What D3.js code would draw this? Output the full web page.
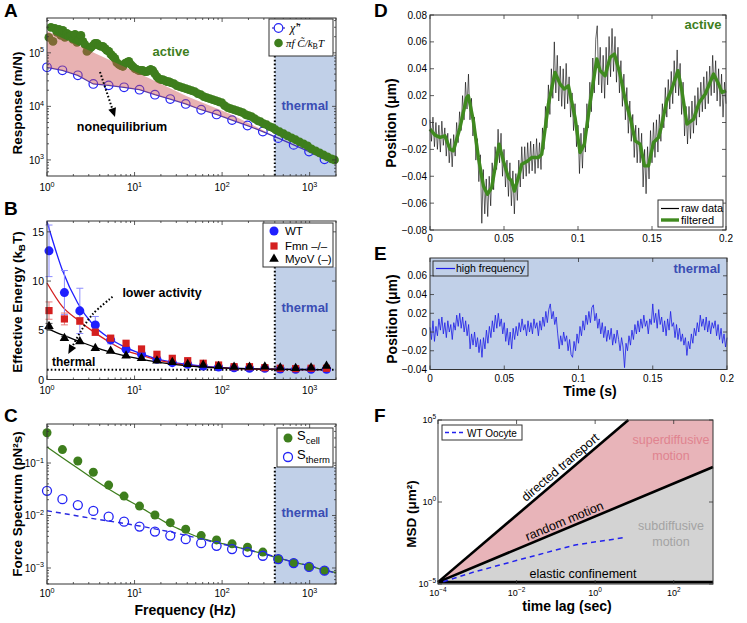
<!DOCTYPE html>
<html><head><meta charset="utf-8">
<script src="https://d3js.org/d3.v7.min.js"></script>
<style>
html,body{margin:0;padding:0;background:#fff;}
svg{display:block;font-family:"Liberation Sans",Arial,Helvetica,sans-serif;}
</style></head><body>
<svg id="fig" width="747" height="623"></svg>
<script>
// ================= DATA =================
const freqs = [1, 1.5, 2.25, 3.38, 5.06, 7.59, 11.4, 17.1, 25.6, 38.4, 57.7, 86.5, 130, 195, 292, 438, 657, 985, 1478];
const thermalCutoff = 400;

// Panel A
const chiImag = [53700, 47200, 38000, 26200, 24700, 22700, 20500, 16500, 13700, 11100, 8650, 7060, 5540, 4390, 3390, 2550, 1910, 1430, 1030];
const activeFreq = [1.05,1.11,1.17,1.23,1.30,1.37,1.44,1.52,1.60,1.69,1.78,1.88,1.98,2.09,2.20,2.32,2.44,2.57,2.71,2.86,3.01,3.18,3.35,3.53,3.72,3.92,4.13,4.35,4.59,4.83,5.09,5.37,5.66,5.96,6.28,6.62,6.98,7.36,7.75,8.17,8.61,9.07,9.56,10.1,10.6,11.2,11.8,12.4,13.1,13.8,14.6,15.3,16.2,17.0,18.0,18.9,19.9,21.0,22.2,23.4,24.6,25.9,28.1,30.3,32.8,35.5,38.5,41.6,45.0,48.7,52.7,57.0,61.7,66.7,72.2,78.1,84.5,91.4,98.9,107,116,125,136,147,159,172,186,201,217,235,255,275,298,323,349,378,408,454,504,560,622,691,767,853,947,1050,1170,1300,1440,1600,1780,1920];
const activeResp = [1.94e5,2.99e5,1.63e5,2.86e5,2.41e5,2.74e5,2.11e5,2.62e5,1.94e5,2.30e5,2.02e5,2.11e5,1.78e5,2.21e5,1.56e5,1.78e5,2.11e5,1.63e5,1.43e5,1.06e5,1.16e5,1.26e5,1.37e5,1.50e5,1.50e5,1.37e5,1.32e5,1.32e5,1.21e5,1.11e5,1.06e5,9.31e4,8.55e4,7.84e4,6.59e4,6.05e4,5.79e4,5.55e4,6.31e4,6.59e4,6.89e4,6.05e4,5.55e4,5.09e4,4.88e4,4.67e4,4.67e4,4.67e4,4.47e4,4.47e4,4.67e4,4.88e4,4.67e4,4.10e4,3.60e4,3.30e4,3.16e4,3.16e4,3.03e4,2.90e4,2.90e4,2.78e4,2.66e4,2.44e4,2.34e4,2.24e4,2.15e4,2.06e4,1.97e4,1.89e4,1.73e4,1.66e4,1.52e4,1.46e4,1.39e4,1.34e4,1.28e4,1.22e4,1.17e4,1.03e4,9.46e3,9.06e3,8.67e3,8.30e3,7.95e3,7.62e3,6.98e3,6.69e3,6.41e3,5.88e3,5.39e3,5.16e3,4.74e3,4.54e3,4.17e3,3.99e3,3.66e3,3.36e3,3.08e3,2.82e3,2.59e3,2.38e3,2.18e3,2.00e3,1.83e3,1.61e3,1.48e3,1.36e3,1.24e3,1.14e3,1.05e3,1.00e3];
const noneqEdgeFreq = [1, 4.02, 14.9, 39.5, 122, 349];
const noneqEdgeResp = [2.55e5, 8.9e4, 3.3e4, 1.54e4, 7.3e3, 3.1e3];

// Panel B
const wtEnergy  = [13.07, 8.83, 6.97, 5.54, 4.02, 3.07, 2.56, 2.05, 1.71, 1.55, 1.37, 1.27, 1.2, 1.14, 1.14, 1.07, 1.04, 1.04, 1.04];
const wtErr     = [2.62, 2.24, 2.3, 0.86, 0.4, 0.22, 0.12, 0.1, 0.08, 0.06, 0.05, 0.05, 0.04, 0.04, 0.04, 0.04, 0.04, 0.04, 0.04];
const fmnEnergy = [7.0, 6.15, 5.95, 4.8, 4.2, 3.68, 3.1, 2.56, 2.15, 1.91, 1.65, 1.47, 1.3, 1.3, 1.2, 1.14, 1.1, 1.14, 1.14];
const fmnErr    = [0.88, 0.6, 0.35, 0.3, 0.2, 0.15, 0.12, 0.1, 0.08, 0.06, 0.05, 0.05, 0.05, 0.05, 0.05, 0.05, 0.05, 0.05, 0.05];
const myoEnergy = [5.4, 4.19, 3.85, 3.17, 2.9, 2.42, 2.15, 1.91, 1.75, 1.55, 1.47, 1.34, 1.27, 1.27, 1.3, 1.2, 1.14, 1.2, 1.37];
const myoErr    = [0.3, 0.2, 0.15, 0.1, 0.08, 0.06, 0.05, 0.05, 0.05, 0.05, 0.05, 0.05, 0.05, 0.05, 0.05, 0.05, 0.05, 0.05, 0.05];
const wtFit  = [16.05, 11.1, 7.75, 5.54, 4.25, 3.34, 2.67, 2.15, 1.8, 1.55, 1.38, 1.25, 1.16, 1.1, 1.06, 1.04, 1.02, 1.01, 1.0];
const fmnFit = [9.8, 7.4, 6.05, 4.86, 3.85, 3.0, 2.5, 2.05, 1.71, 1.47, 1.3, 1.2, 1.12, 1.07, 1.04, 1.02, 1.01, 1.0, 1.0];
const myoFit = [5.2, 4.53, 3.92, 3.34, 2.83, 2.42, 2.09, 1.81, 1.58, 1.4, 1.27, 1.2, 1.14, 1.09, 1.06, 1.04, 1.02, 1.01, 1.0];
const thermalLevel = 1;

// Panel C
const sCell  = [0.377, 0.18, 0.109, 0.0667, 0.0379, 0.0234, 0.0151, 0.0102, 0.00731, 0.00548, 0.00414, 0.00343, 0.00288, 0.00249, 0.00201, 0.00148, 0.00124, 0.00105, 0.00089];
const sTherm = [0.0295, 0.0205, 0.0158, 0.0122, 0.0095, 0.00763, 0.00614, 0.00494, 0.00414, 0.00354, 0.00297, 0.00264, 0.00229, 0.00201, 0.00171, 0.00148, 0.00124, 0.00105, 0.00089];
const cFitFreq  = [1, 1.5, 2.25, 3.38, 5.06, 7.59, 11.4, 17.1, 25.6, 38.4, 57.7, 86.5, 130, 195, 292, 438, 657, 985, 1478, 2000];
const sCellFit  = [0.201, 0.126, 0.0794, 0.0496, 0.032, 0.0214, 0.0147, 0.00977, 0.0066, 0.00487, 0.0037, 0.00308, 0.00264, 0.00222, 0.00187, 0.00155, 0.00129, 0.00111, 0.00091, 0.00082];
const sThermFit = [0.0123, 0.011, 0.0098, 0.0087, 0.00787, 0.00705, 0.00632, 0.00555, 0.00487, 0.00418, 0.00359, 0.00301, 0.00259, 0.00222, 0.00191, 0.00157, 0.00129, 0.00111, 0.00091, 0.0008];

// Panel D (sampling interval 1 ms)
const rawDt = 0.001;
const rawPos = [0.002,-0.014,0.004,-0.018,0.000,-0.020,-0.002,-0.022,0.001,-0.017,
-0.004,-0.025,-0.008,-0.030,-0.012,-0.033,-0.009,-0.025,0.000,-0.015,
0.008,-0.006,0.020,0.002,0.030,0.010,0.036,0.002,0.018,-0.010,
0.004,-0.028,-0.012,-0.044,-0.024,-0.075,-0.035,-0.068,-0.042,-0.070,
-0.040,-0.062,-0.030,-0.050,-0.018,-0.035,-0.005,-0.030,-0.008,-0.040,
-0.020,-0.048,-0.028,-0.055,-0.030,-0.062,-0.036,-0.068,-0.038,-0.058,
-0.028,-0.048,-0.018,-0.042,-0.018,-0.040,-0.015,-0.038,-0.014,-0.036,
-0.016,-0.038,-0.012,-0.034,-0.015,-0.035,-0.004,-0.020,0.012,-0.004,
0.028,0.006,0.040,0.018,0.060,0.022,0.050,0.016,0.042,0.012,
0.040,0.010,0.044,0.014,0.034,0.004,0.022,-0.006,0.014,-0.018,
-0.002,-0.038,-0.008,-0.034,-0.004,-0.022,0.014,-0.004,0.030,0.008,
0.048,0.022,0.062,0.072,0.028,0.056,0.022,0.050,0.018,0.056,
0.028,0.064,0.034,0.070,0.038,0.064,0.030,0.056,0.022,0.046,
0.012,0.036,0.002,0.026,-0.008,0.016,-0.014,0.006,-0.026,-0.002,
-0.030,-0.004,-0.030,-0.008,-0.048,-0.020,-0.053,-0.018,-0.042,-0.006,
-0.030,0.000,-0.026,0.002,-0.022,0.006,-0.014,0.014,-0.004,0.026,
0.004,0.032,0.010,0.038,0.014,0.046,0.022,0.054,0.020,0.044,
0.006,0.030,-0.010,0.012,-0.016,0.012,-0.012,0.016,-0.008,0.020,
-0.002,0.026,0.004,0.030,0.008,0.034,0.010,0.038,0.014,0.042,
0.020,0.050,0.022,0.046,0.016,0.040,0.012,0.036,0.004,0.030,
0.014];
const filtTime = [0,0.0034,0.0068,0.0101,0.0135,0.0158,0.0203,0.0248,0.0259,0.0293,0.0327,0.0361,0.0388,0.0417,0.0467,0.0496,0.053,0.0552,0.057,0.0597,0.062,0.066,0.0687,0.0732,0.0755,0.08,0.0845,0.0879,0.0908,0.0935,0.098,0.1014,0.1043,0.1082,0.1127,0.1149,0.1183,0.1217,0.1246,0.1284,0.1318,0.1358,0.1386,0.142,0.1449,0.1476,0.151,0.1544,0.1562,0.16,0.1634,0.1675,0.1702,0.1736,0.1781,0.1819,0.186,0.1916,0.195,0.1973,0.2];
const filtPos = [-0.0049,-0.0094,-0.0111,-0.0099,-0.0199,-0.0211,-0.0037,0.0187,0.0199,0.0013,-0.0261,-0.0472,-0.0534,-0.0484,-0.0161,-0.0286,-0.041,-0.0435,-0.051,-0.041,-0.031,-0.0286,-0.0261,-0.0261,-0.0236,0.0137,0.0373,0.0286,0.0249,0.0274,0.0037,-0.0224,-0.0161,0.0149,0.0473,0.0386,0.0348,0.0485,0.051,0.0361,0.0175,0.0013,-0.0137,-0.0161,-0.0323,-0.0323,-0.0149,-0.0112,-0.0037,0.0162,0.0249,0.0386,0.0236,-0.0012,0.0025,0.0149,0.0212,0.0361,0.0286,0.0224,0.0236];
const dYTicks = [-0.08,-0.06,-0.04,-0.02,0,0.02,0.04,0.06,0.08];
const timeTicks = [0,0.05,0.1,0.15,0.2];

// Panel E (sampling interval 1 ms)
const hfDt = 0.001;
const hfPos = [0.005,-0.008,0.012,-0.010,0.006,-0.004,0.014,0.002,0.016,-0.002,
0.010,-0.006,0.012,0.000,0.008,-0.008,0.010,0.002,0.018,0.006,
0.020,0.004,0.016,0.000,0.012,-0.004,0.008,-0.018,-0.002,-0.014,
0.000,-0.016,-0.006,-0.022,-0.008,-0.027,-0.006,-0.018,0.002,-0.012,
0.006,-0.006,0.012,0.000,0.018,0.004,0.020,0.006,0.014,-0.002,
0.010,-0.010,0.004,-0.014,0.000,-0.018,0.004,-0.008,0.006,-0.004,
0.010,0.000,0.014,0.002,0.008,-0.004,0.012,0.000,0.010,-0.002,
0.014,0.004,0.010,-0.004,0.012,0.002,0.016,0.006,0.022,0.010,
0.024,0.030,0.014,0.022,0.008,0.016,-0.002,-0.018,-0.004,-0.014,
0.000,-0.010,-0.004,-0.020,-0.008,-0.024,-0.027,-0.010,-0.020,-0.002,
-0.012,0.006,-0.004,0.012,0.002,0.018,0.008,0.022,0.010,0.026,
0.029,0.012,0.020,0.004,0.014,-0.002,0.010,-0.006,0.006,-0.010,
0.002,-0.008,0.004,-0.014,-0.002,-0.012,0.002,-0.008,-0.020,-0.006,
-0.016,-0.038,-0.012,-0.020,-0.004,-0.014,0.002,-0.008,0.008,-0.002,
0.012,0.000,0.014,0.004,0.018,0.006,0.012,-0.002,0.014,0.008,
0.030,0.010,0.020,0.004,0.024,0.008,0.016,0.000,0.012,-0.004,
0.014,0.002,0.022,0.006,0.010,-0.006,0.008,-0.008,0.004,-0.010,
-0.002,-0.014,-0.006,-0.025,-0.010,-0.018,-0.002,-0.012,0.004,-0.004,
0.010,0.000,0.018,0.006,0.014,0.002,0.016,0.000,0.012,-0.002,
0.010,0.004,0.012,-0.004,0.008,-0.008,0.004,-0.012,-0.002,-0.016,
-0.006];
const eYTicks = [-0.04,-0.02,0,0.02,0.04,0.06];

// Panel F
const msdOrigin = [1e-4, 1.3e-5];
const directedEnd = [7, 1e5];
const randomEnd = [1e3, 135];
const elasticEnd = [1e3, 1.3e-5];
const wtLag = [1.36e-4, 8.7e-4, 0.0162, 0.31, 5.2];
const wtMsd = [1.38e-5, 5.6e-5, 3.7e-4, 2.4e-3, 6.6e-3];
const fLagTicks = [1e-4, 1e-2, 1, 1e2];
const fMsdTicks = [1e-5, 1, 1e5];

// ================= HELPERS =================
const svg = d3.select("#fig");
const COL = {frame:"#333", thermBg:"#c1d0e8", thermTxt:"#3a4db4", green:"#3e7e1d", blue:"#2424f5"};

function frame(g, x, y){
  const [x0,x1]=x.range(), [y0,y1]=y.range();
  g.append("rect").attr("x",x0).attr("y",y1).attr("width",x1-x0).attr("height",y0-y1)
   .attr("fill","none").attr("stroke",COL.frame).attr("stroke-width",1);
}
function logTickVals(scale){
  const [a,b]=scale.domain(); const out=[];
  for(let n=Math.floor(Math.log10(a)); n<=Math.ceil(Math.log10(b)); n++)
    for(let k=1;k<=9;k++){ const v=k*Math.pow(10,n); if(v>=a*0.9999 && v<=b*1.0001) out.push({v, major:k===1, exp:n}); }
  return out;
}
function xTicks(g, x, y, ticks){
  const [yb,yt]=y.range();
  g.append("g").selectAll("path").data(ticks).join("path")
   .attr("d", t=>{const px=x(t.v), L=t.major?4:2; return `M${px},${yb}v${-L}M${px},${yt}v${L}`;})
   .attr("stroke",COL.frame).attr("stroke-width",0.8).attr("fill","none");
}
function yTicks(g, x, y, ticks){
  const [xl,xr]=x.range();
  g.append("g").selectAll("path").data(ticks).join("path")
   .attr("d", t=>{const py=y(t.v), L=t.major?4:2; return `M${xl},${py}h${L}M${xr},${py}h${-L}`;})
   .attr("stroke",COL.frame).attr("stroke-width",0.8).attr("fill","none");
}
function powText(g, x, y, exp, anchor, fs){
  const t=g.append("text").attr("x",x).attr("y",y).attr("text-anchor",anchor).attr("font-size",fs).attr("fill","#000");
  t.append("tspan").text("10");
  t.append("tspan").attr("dy",-fs*0.45).attr("font-size",fs*0.72).text(exp<0?"\u2212"+(-exp):String(exp));
  return t;
}
function text(g, x, y, s, o={}){
  return g.append("text").attr("x",x).attr("y",y).attr("text-anchor",o.anchor||"start")
    .attr("font-size",o.size||12).attr("font-weight",o.weight||"normal").attr("fill",o.fill||"#000").text(s);
}
function ylabel(g, x, y, parts, fs){
  const t=g.append("text").attr("transform",`translate(${x},${y}) rotate(-90)`).attr("text-anchor","middle")
    .attr("font-size",fs).attr("font-weight","bold");
  parts.forEach(p=>{ const s=t.append("tspan").text(p.t); if(p.sub){s.attr("font-size",fs*0.72).attr("dy",3);} if(p.after){s.attr("dy",-3);} });
  return t;
}
function dottedArrow(g, pts){
  const n=pts.length, tip=pts[n-1], prev=pts[n-2];
  const ang=Math.atan2(tip[1]-prev[1], tip[0]-prev[0]);
  const L=9, W=4;
  const base=[tip[0]-L*Math.cos(ang), tip[1]-L*Math.sin(ang)];
  const lp=pts.slice(0,n-1).concat([base]);
  g.append("path").attr("d", d3.line().curve(d3.curveCatmullRom)(lp)).attr("fill","none")
   .attr("stroke","#000").attr("stroke-width",2).attr("stroke-dasharray","1.6,2");
  g.append("path").attr("d",`M${tip[0]},${tip[1]}L${base[0]-W*Math.sin(ang)},${base[1]+W*Math.cos(ang)}L${base[0]+W*Math.sin(ang)},${base[1]-W*Math.cos(ang)}Z`).attr("fill","#000");
}
function thermalBox(g, x, y, topPx){
  const x0=x(thermalCutoff), x1=x.range()[1], yb=y.range()[0];
  g.append("rect").attr("x",x0).attr("y",topPx).attr("width",x1-x0).attr("height",yb-topPx).attr("fill",COL.thermBg);
  g.append("line").attr("x1",x0).attr("x2",x0).attr("y1",topPx).attr("y2",yb)
   .attr("stroke","#000").attr("stroke-width",2).attr("stroke-dasharray","1.6,2.2");
}
function logXLabels(g, x, yPix){
  logTickVals(x).filter(t=>t.major).forEach(t=>powText(g, x(t.v), yPix, t.exp, "middle", 10));
}
function panelLetter(x,y,s){ text(svg,x,y,s,{size:19,weight:"bold"}); }

// ================= PANEL A =================
(function(){
  const g=svg.append("g");
  const x=d3.scaleLog().domain([1,2000]).range([47,336]);
  const y=d3.scaleLog().domain([Math.pow(10,2.7),Math.pow(10,5.65)]).range([176,18]);
  const leg={x0:269,y0:19,x1:333,y1:56};
  thermalBox(g,x,y,leg.y1);
  g.append("path").attr("d",d3.line()(freqs.map((f,i)=>[x(f),y(chiImag[i])])))
   .attr("fill","none").attr("stroke","#4636b4").attr("stroke-width",1.3);
  g.append("g").selectAll("circle").data(freqs).join("circle")
   .attr("cx",f=>x(f)).attr("cy",(f,i)=>y(chiImag[i])).attr("r",4.3)
   .attr("fill","none").attr("stroke",COL.blue).attr("stroke-width",1.2);
  g.append("g").selectAll("circle").data(activeFreq).join("circle")
   .attr("cx",f=>x(f)).attr("cy",(f,i)=>y(activeResp[i])).attr("r",4.4).attr("fill",COL.green);
  const up=noneqEdgeFreq.map((f,i)=>[x(f),y(noneqEdgeResp[i])]);
  const lo=freqs.slice(0,15).map((f,i)=>[x(f),y(chiImag[i])]).reverse();
  g.append("path").attr("d",d3.line()(up.concat(lo))+"Z").attr("fill","rgb(205,85,85)").attr("fill-opacity",0.45);
  text(g,171,56,"active",{size:13,weight:"bold",fill:COL.green,anchor:"middle"});
  text(g,122,131,"nonequilibrium",{size:12.5,weight:"bold",anchor:"middle"});
  text(g,305,110,"thermal",{size:13,weight:"bold",fill:COL.thermTxt,anchor:"middle"});
  dottedArrow(g,[[x(4.03),y(4.38e4)],[x(5.98),y(6.34e3)]]);
  frame(g,x,y);
  const tx=logTickVals(x), ty=logTickVals(y);
  xTicks(g,x,y,tx); yTicks(g,x,y,ty);
  logXLabels(g,x,191);
  ty.filter(t=>t.major).forEach(t=>powText(g,44,y(t.v)+4,t.exp,"end",10));
  ylabel(g,22,103,[{t:"Response (m/N)"}],13.5);
  g.append("rect").attr("x",leg.x0).attr("y",leg.y0).attr("width",leg.x1-leg.x0).attr("height",leg.y1-leg.y0)
   .attr("fill","#fff").attr("stroke",COL.frame).attr("stroke-width",1);
  g.append("line").attr("x1",272).attr("x2",285).attr("y1",28).attr("y2",28).attr("stroke","#4636b4").attr("stroke-width",1.3);
  g.append("circle").attr("cx",278.5).attr("cy",28).attr("r",4.3).attr("fill","#fff").attr("stroke",COL.blue).attr("stroke-width",1.2);
  const t1=g.append("text").attr("x",290).attr("y",32).attr("font-family","Liberation Serif, serif").attr("font-style","italic").attr("font-size",12);
  t1.text("\u03C7\u0303\u2033");
  g.append("circle").attr("cx",278.5).attr("cy",43).attr("r",4.3).attr("fill",COL.green);
  const t2=g.append("text").attr("x",286).attr("y",47).attr("font-family","Liberation Serif, serif").attr("font-style","italic").attr("font-size",11);
  t2.append("tspan").text("\u03C0f C\u0303/k");
  t2.append("tspan").attr("font-style","normal").attr("font-size",8).attr("dy",2).text("B");
  t2.append("tspan").attr("dy",-2).text("T");
})();

// ================= PANEL B =================
(function(){
  const g=svg.append("g");
  const x=d3.scaleLog().domain([1,2000]).range([47,336]);
  const y=d3.scaleLinear().domain([0,16.1]).range([379.5,221]);
  const leg={x0:263,y0:223,x1:333,y1:267};
  thermalBox(g,x,y,leg.y1);
  g.append("line").attr("x1",x.range()[0]).attr("x2",x.range()[1]).attr("y1",y(thermalLevel)).attr("y2",y(thermalLevel))
   .attr("stroke","#000").attr("stroke-width",2).attr("stroke-dasharray","1.6,2.2");
  const series=[
    {v:wtEnergy,e:wtErr,fit:wtFit,c:"#1f1fff",ec:"#8c8cff",m:"circle"},
    {v:fmnEnergy,e:fmnErr,fit:fmnFit,c:"#d41f1f",ec:"#e87a7a",m:"square"},
    {v:myoEnergy,e:myoErr,fit:myoFit,c:"#000",ec:"#555",m:"triangle"}];
  const symOf=m=>m==="circle"?d3.symbolCircle:(m==="square"?d3.symbolSquare:d3.symbolTriangle);
  const sizeOf=m=>m==="circle"?64:(m==="square"?52:40);
  series.forEach(s=>{
    g.append("path").attr("d",d3.line().curve(d3.curveMonotoneX)(freqs.map((f,i)=>[x(f),y(s.fit[i])])))
     .attr("fill","none").attr("stroke",s.c).attr("stroke-width",1.3);
  });
  series.forEach(s=>{
    freqs.forEach((f,i)=>{
      const px=x(f)+2, y1=y(s.v[i]+s.e[i]), y2=y(s.v[i]-s.e[i]);
      if(y2-y1>3){
        g.append("path").attr("d",`M${px},${y1}V${y2}M${px-3.5},${y1}h7M${px-3.5},${y2}h7`).attr("stroke",s.ec).attr("stroke-width",1).attr("fill","none");
      }
    });
    g.append("g").selectAll("path").data(freqs).join("path")
     .attr("d",d3.symbol().type(symOf(s.m)).size(sizeOf(s.m)))
     .attr("transform",(f,i)=>`translate(${x(f)+2},${y(s.v[i])})`).attr("fill",s.c);
  });
  text(g,162,297,"lower activity",{size:12.5,weight:"bold",anchor:"middle"});
  text(g,52,366,"thermal",{size:12,weight:"bold"});
  text(g,305,312,"thermal",{size:13,weight:"bold",fill:COL.thermTxt,anchor:"middle"});
  dottedArrow(g,[[x(5.6),y(8.4)],[x(3.3),y(6.6)],[x(2.4),y(4.8)],[x(1.75),y(2.6)]]);
  frame(g,x,y);
  xTicks(g,x,y,logTickVals(x));
  const yt=[0,5,10,15].map(v=>({v,major:true}));
  yTicks(g,x,y,yt);
  logXLabels(g,x,394);
  yt.forEach(t=>text(g,44,y(t.v)+4,String(t.v),{size:10.5,anchor:"end"}));
  ylabel(g,22,302,[{t:"Effective Energy (k"},{t:"B",sub:true},{t:"T)",after:true}],13.5);
  g.append("rect").attr("x",leg.x0).attr("y",leg.y0).attr("width",leg.x1-leg.x0).attr("height",leg.y1-leg.y0)
   .attr("fill","#fff").attr("stroke",COL.frame).attr("stroke-width",1);
  const names=["WT","Fmn \u2013/\u2013","MyoV (\u2013)"], ly=[231,246,259];
  series.forEach((s,i)=>{
    g.append("path").attr("d",d3.symbol().type(symOf(s.m)).size(sizeOf(s.m))).attr("transform",`translate(274,${ly[i]})`).attr("fill",s.c);
    text(g,285,ly[i]+4,names[i],{size:11.5});
  });
})();

// ================= PANEL C =================
(function(){
  const g=svg.append("g");
  const x=d3.scaleLog().domain([1,2000]).range([47,336]);
  const y=d3.scaleLog().domain([Math.pow(10,-3.305),Math.pow(10,-0.257)]).range([584,424]);
  const leg={x0:277,y0:428,x1:333,y1:467};
  thermalBox(g,x,y,leg.y1);
  g.append("path").attr("d",d3.line().curve(d3.curveMonotoneX)(cFitFreq.map((f,i)=>[x(f),y(sCellFit[i])])))
   .attr("fill","none").attr("stroke",COL.green).attr("stroke-width",1.3);
  g.append("path").attr("d",d3.line().curve(d3.curveMonotoneX)(cFitFreq.map((f,i)=>[x(f),y(sThermFit[i])])))
   .attr("fill","none").attr("stroke","#2a2ae0").attr("stroke-width",1.4).attr("stroke-dasharray","5,4");
  g.append("g").selectAll("circle").data(freqs).join("circle")
   .attr("cx",f=>x(f)).attr("cy",(f,i)=>y(sCell[i])).attr("r",4.5).attr("fill",COL.green);
  g.append("g").selectAll("circle").data(freqs).join("circle")
   .attr("cx",f=>x(f)).attr("cy",(f,i)=>y(sTherm[i])).attr("r",4.5).attr("fill","none").attr("stroke",COL.blue).attr("stroke-width",1.3);
  text(g,305,517,"thermal",{size:13,weight:"bold",fill:COL.thermTxt,anchor:"middle"});
  frame(g,x,y);
  const ty=logTickVals(y);
  xTicks(g,x,y,logTickVals(x)); yTicks(g,x,y,ty);
  logXLabels(g,x,597);
  ty.filter(t=>t.major).forEach(t=>powText(g,44,y(t.v)+4,t.exp,"end",10));
  ylabel(g,22,504,[{t:"Force Spectrum (pN\u00B2s)"}],13.5);
  text(g,185,615,"Frequency (Hz)",{size:14,weight:"bold",anchor:"middle"});
  g.append("rect").attr("x",leg.x0).attr("y",leg.y0).attr("width",leg.x1-leg.x0).attr("height",leg.y1-leg.y0)
   .attr("fill","#fff").attr("stroke",COL.frame).attr("stroke-width",1);
  g.append("circle").attr("cx",288).attr("cy",438).attr("r",4.5).attr("fill",COL.green);
  g.append("circle").attr("cx",288).attr("cy",457).attr("r",4.5).attr("fill","none").attr("stroke",COL.blue).attr("stroke-width",1.3);
  const s1=g.append("text").attr("x",297).attr("y",440).attr("font-size",13); s1.append("tspan").text("S"); s1.append("tspan").attr("dy",4).attr("font-size",9.5).text("cell");
  const s2=g.append("text").attr("x",297).attr("y",459).attr("font-size",13); s2.append("tspan").text("S"); s2.append("tspan").attr("dy",4).attr("font-size",9.5).text("therm");
})();

// ================= PANEL D =================
(function(){
  const g=svg.append("g");
  const x=d3.scaleLinear().domain([0,0.2]).range([430,726]);
  const y=d3.scaleLinear().domain([-0.08,0.08]).range([230,15]);
  g.append("path").attr("d",d3.line()(rawPos.map((v,i)=>[x(i*rawDt),y(v)])))
   .attr("fill","none").attr("stroke","#000").attr("stroke-width",0.6);
  g.append("path").attr("d",d3.line()(filtTime.map((t,i)=>[x(t),y(filtPos[i])])))
   .attr("fill","none").attr("stroke","#3f8a1f").attr("stroke-width",3.4).attr("stroke-linejoin","round");
  frame(g,x,y);
  xTicks(g,x,y,timeTicks.map(v=>({v,major:true})));
  yTicks(g,x,y,dYTicks.map(v=>({v,major:true})));
  const fmt=v=>v===0?"0":(v<0?"\u2212":"")+Math.abs(v).toFixed(2);
  dYTicks.forEach(v=>text(g,427,y(v)+3.5,fmt(v),{size:10,anchor:"end"}));
  timeTicks.forEach(v=>text(g,x(v),242,String(+v.toFixed(2)),{size:10,anchor:"middle"}));
  ylabel(g,396,123,[{t:"Position (\u03BCm)"}],14);
  text(g,703,29,"active",{size:13,weight:"bold",fill:COL.green,anchor:"middle"});
  g.append("rect").attr("x",658).attr("y",200).attr("width",65).attr("height",27).attr("fill","#fff").attr("stroke",COL.frame).attr("stroke-width",1);
  g.append("line").attr("x1",661).attr("x2",679).attr("y1",208.5).attr("y2",208.5).attr("stroke","#000").attr("stroke-width",1.2);
  g.append("line").attr("x1",661).attr("x2",679).attr("y1",220).attr("y2",220).attr("stroke","#3f8a1f").attr("stroke-width",3.4);
  text(g,681,212,"raw data",{size:11});
  text(g,681,223.5,"filtered",{size:11});
})();

// ================= PANEL E =================
(function(){
  const g=svg.append("g");
  const x=d3.scaleLinear().domain([0,0.2]).range([430,727]);
  const y=d3.scaleLinear().domain([-0.04,0.079]).range([369.5,258]);
  g.append("rect").attr("x",430).attr("y",258).attr("width",297).attr("height",111.5).attr("fill",COL.thermBg);
  g.append("path").attr("d",d3.line()(hfPos.map((v,i)=>[x(i*hfDt),y(v)])))
   .attr("fill","none").attr("stroke","#1c1ce6").attr("stroke-width",0.8);
  frame(g,x,y);
  xTicks(g,x,y,timeTicks.map(v=>({v,major:true})));
  yTicks(g,x,y,eYTicks.map(v=>({v,major:true})));
  const fmt=v=>v===0?"0":(v<0?"\u2212":"")+Math.abs(v).toFixed(2);
  eYTicks.forEach(v=>text(g,427,y(v)+3.5,fmt(v),{size:10,anchor:"end"}));
  timeTicks.forEach(v=>text(g,x(v),382,String(+v.toFixed(2)),{size:10,anchor:"middle"}));
  ylabel(g,397,319,[{t:"Position (\u03BCm)"}],14);
  text(g,590,396,"Time (s)",{size:14,weight:"bold",anchor:"middle"});
  text(g,697,273,"thermal",{size:13,weight:"bold",fill:COL.thermTxt,anchor:"middle"});
  g.append("rect").attr("x",433).attr("y",261).attr("width",95).attr("height",15).attr("fill","none").attr("stroke",COL.frame).attr("stroke-width",1);
  g.append("line").attr("x1",436).attr("x2",455).attr("y1",268.5).attr("y2",268.5).attr("stroke","#1c1ce6").attr("stroke-width",1.2);
  text(g,456,272,"high frequency",{size:10.5});
})();

// ================= PANEL F =================
(function(){
  const g=svg.append("g");
  const x=d3.scaleLog().domain([1e-4,1e3]).range([438,713]);
  const y=d3.scaleLog().domain([1e-5,1e5]).range([584,420]);
  const P=p=>[x(p[0]),y(p[1])];
  const topRight=[x.domain()[1],y.domain()[1]];
  g.append("path").attr("d",d3.line()([P(msdOrigin),P(directedEnd),P(topRight),P(randomEnd)])+"Z").attr("fill","#e8b4b9");
  g.append("path").attr("d",d3.line()([P(msdOrigin),P(randomEnd),P(elasticEnd)])+"Z").attr("fill","#d3d3d3");
  [directedEnd,randomEnd,elasticEnd].forEach(e=>{
    g.append("path").attr("d",d3.line()([P(msdOrigin),P(e)])).attr("stroke","#000").attr("stroke-width",2.6).attr("fill","none");
  });
  g.append("path").attr("d",d3.line()(wtLag.map((t,i)=>[x(t),y(wtMsd[i])])))
   .attr("fill","none").attr("stroke","#2222ee").attr("stroke-width",1.5).attr("stroke-dasharray","5,4");
  function along(p0,p1,frac,off,s){
    const a=P(p0), b=P(p1); const ang=Math.atan2(b[1]-a[1],b[0]-a[0]);
    const px=a[0]+(b[0]-a[0])*frac, py=a[1]+(b[1]-a[1])*frac;
    g.append("text").attr("transform",`translate(${px+off*Math.sin(ang)},${py-off*Math.cos(ang)}) rotate(${ang*180/Math.PI})`)
     .attr("text-anchor","middle").attr("font-size",12.5).text(s);
  }
  along(msdOrigin,directedEnd,0.67,4,"directed transport");
  along(msdOrigin,randomEnd,0.47,3.5,"random motion");
  text(g,583,578,"elastic confinement",{size:12.5,anchor:"middle"});
  text(g,671,444,"superdiffusive",{size:12.5,anchor:"middle",fill:"#e0838f"});
  text(g,671,460,"motion",{size:12.5,anchor:"middle",fill:"#e0838f"});
  text(g,671,530,"subdiffusive",{size:12.5,anchor:"middle",fill:"#a3a3a3"});
  text(g,671,546,"motion",{size:12.5,anchor:"middle",fill:"#a3a3a3"});
  frame(g,x,y);
  xTicks(g,x,y,fLagTicks.map(v=>({v,major:true})));
  yTicks(g,x,y,fMsdTicks.map(v=>({v,major:true})));
  fLagTicks.forEach(v=>powText(g,x(v),596,Math.round(Math.log10(v)),"middle",9));
  fMsdTicks.forEach(v=>powText(g,436,y(v)+3,Math.round(Math.log10(v)),"end",9));
  ylabel(g,416,514,[{t:"MSD (\u03BCm\u00B2)"}],13.5);
  text(g,567,611,"time lag (sec)",{size:14,weight:"bold",anchor:"middle"});
  g.append("rect").attr("x",442).attr("y",425).attr("width",80).attr("height",15).attr("fill","#fff").attr("stroke",COL.frame).attr("stroke-width",1);
  g.append("line").attr("x1",445).attr("x2",466).attr("y1",432.5).attr("y2",432.5).attr("stroke","#2222ee").attr("stroke-width",1.5).attr("stroke-dasharray","4,3");
  text(g,467,436.5,"WT Oocyte",{size:10});
})();

// panel letters
panelLetter(4,17,"A"); panelLetter(4,215,"B"); panelLetter(4,422,"C");
panelLetter(374,17,"D"); panelLetter(374,260,"E"); panelLetter(374,422,"F");
</script>
</body></html>
